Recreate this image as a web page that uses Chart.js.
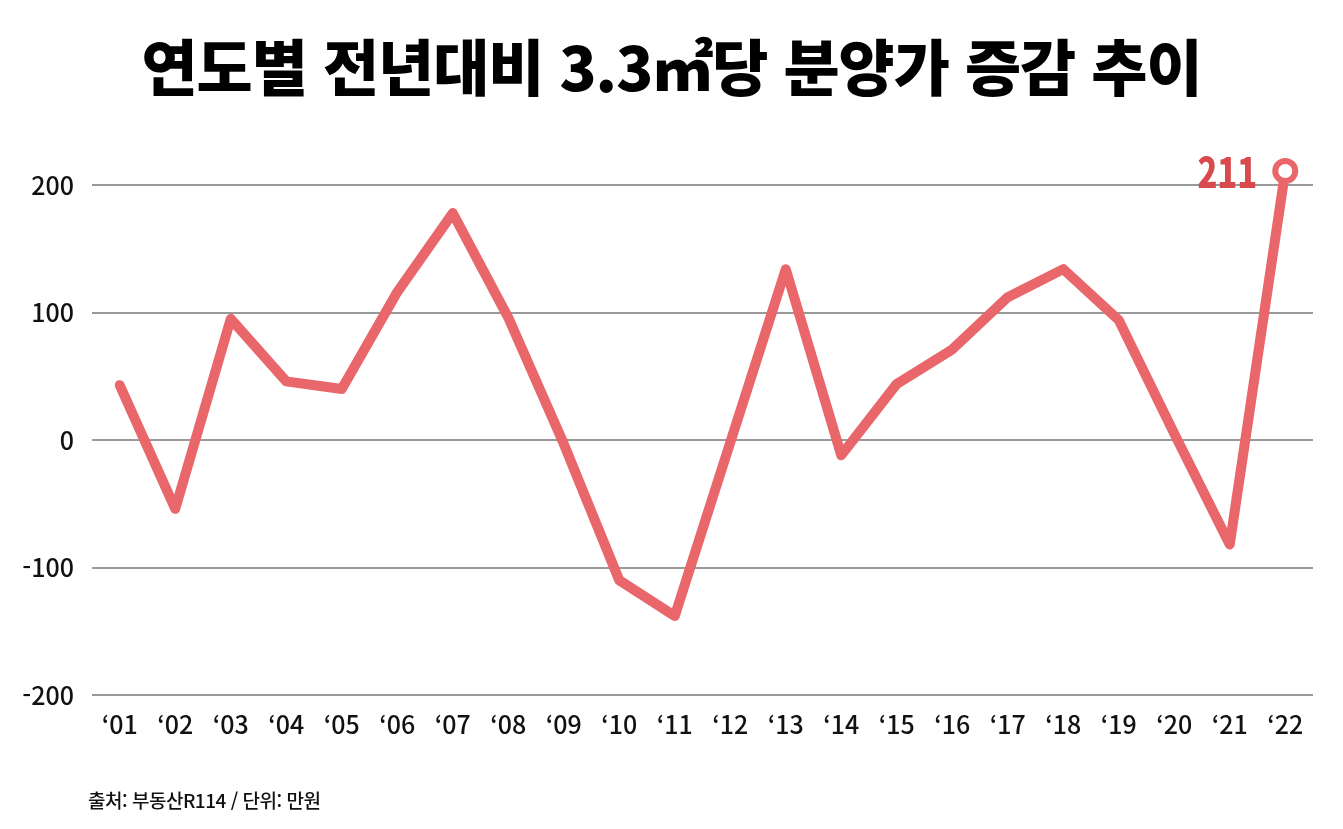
<!DOCTYPE html>
<html lang="ko">
<head>
<meta charset="utf-8">
<script src="https://cdn.jsdelivr.net/npm/chart.js@4/dist/chart.umd.min.js"></script>
<style>
  html, body { margin: 0; padding: 0; background: #fff; }
  body { width: 1343px; height: 829px; position: relative; overflow: hidden; }
  #title {
    position: absolute; left: 0; top: 20px; width: 1343px; text-align: center;
    font-family: "Noto Sans CJK KR", sans-serif; font-weight: 900; font-size: 61px;
    letter-spacing: -1px; color: #000; margin: 0; z-index: 2;
  }
  #source {
    position: absolute; left: 88px; top: 786px;
    font-family: "Noto Sans CJK KR", sans-serif; font-weight: 500; font-size: 19px;
    color: #111; letter-spacing: -0.5px; z-index: 2;
  }
  #wrap { position: absolute; left: 0; top: 0; width: 1343px; height: 829px; }
</style>
</head>
<body>
<h1 id="title">연도별 전년대비 3.3㎡당 분양가 증감 추이</h1>
<div id="wrap"><canvas id="chart"></canvas></div>
<div id="source">출처: 부동산R114 / 단위: 만원</div>
<script>
const years = ["'01", "'02", "'03", "'04", "'05", "'06", "'07", "'08", "'09", "'10", "'11",
               "'12", "'13", "'14", "'15", "'16", "'17", "'18", "'19", "'20", "'21", "'22"];
const yearLabels = years.map(y => "\u2018" + y.slice(1));
const priceChange = [43, -54, 95, 46, 40, 116, 178, 96, -3, -110, -138,
                     -2, 134, -12, 44, 71, 112, 134, 94, 5, -82, 211];
const yTicks = [-200, -100, 0, 100, 200];

const lineColor = "#e9666a";
const tickFont = { family: "'Noto Sans CJK KR', sans-serif", size: 25, weight: 500 };

// label next to the last point (drawn a bit condensed like the original)
const lastLabel = {
    id: "lastLabel",
    afterDatasetsDraw(chart) {
        const meta = chart.getDatasetMeta(0);
        const pt = meta.data[meta.data.length - 1];
        const ctx = chart.ctx;
        ctx.save();
        ctx.translate(pt.x - 28, pt.y + 1);
        ctx.scale(0.78, 1);
        ctx.font = "900 42px 'Noto Sans CJK KR', sans-serif";
        ctx.fillStyle = "#d94a4f";
        ctx.textAlign = "right";
        ctx.textBaseline = "middle";
        ctx.fillText(String(priceChange[priceChange.length - 1]), 0, 0);
        ctx.restore();
    }
};

const lastIdx = priceChange.length - 1;

const chart = new Chart(document.getElementById("chart"), {
    type: "line",
    data: {
        labels: yearLabels,
        datasets: [{
            data: priceChange,
            borderColor: lineColor,
            borderWidth: 10,
            borderJoinStyle: "round",
            borderCapStyle: "round",
            tension: 0,
            clip: false,
            pointRadius: priceChange.map((v, i) => i === lastIdx ? 10 : 0),
            pointBorderWidth: 6,
            pointBackgroundColor: "#fff",
            pointBorderColor: lineColor,
            pointHoverRadius: 0
        }]
    },
    options: {
        responsive: true,
        maintainAspectRatio: false,
        animation: false,
        events: [],
        layout: { padding: { top: 185, bottom: 79, left: 0, right: 30 } },
        plugins: { legend: { display: false }, tooltip: { enabled: false } },
        scales: {
            x: {
                offset: true,
                grid: { display: false },
                border: { display: false },
                ticks: { color: "#111", font: tickFont, padding: 6, maxRotation: 0, autoSkip: false },
                afterFit: (scale) => { scale.height = 55; }
            },
            y: {
                min: -200,
                max: 200,
                afterBuildTicks: (scale) => { scale.ticks = yTicks.map(v => ({ value: v })); },
                grid: { color: "#999", lineWidth: 2, drawTicks: false },
                border: { display: false },
                ticks: { color: "#111", font: tickFont, padding: 18 },
                afterFit: (scale) => { scale.width = 92; }
            }
        }
    },
    plugins: [lastLabel]
});
</script>
</body>
</html>
